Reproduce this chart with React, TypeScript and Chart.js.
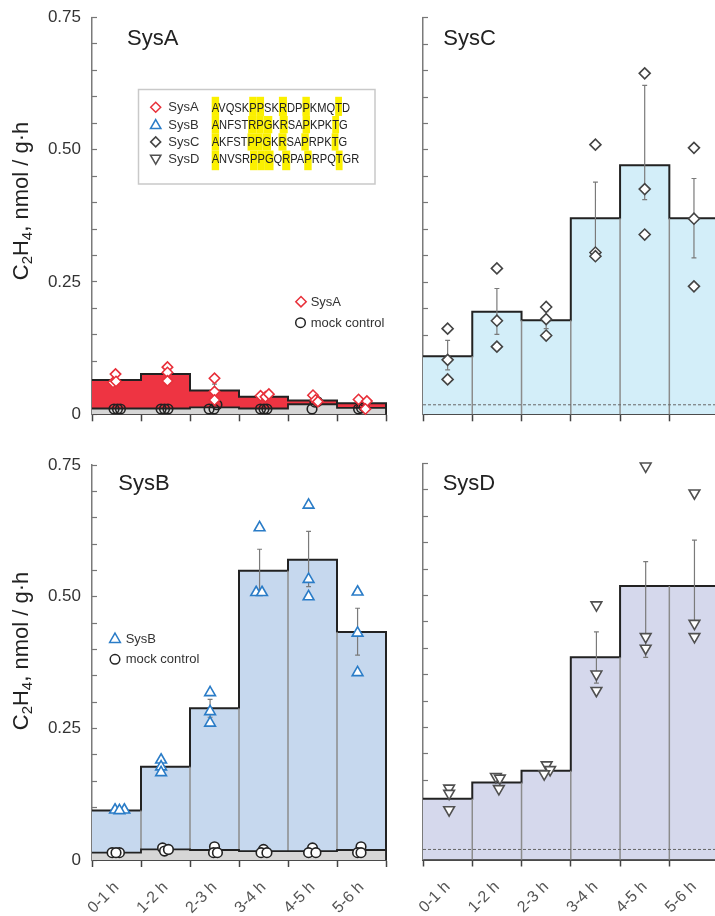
import React, { useEffect, useRef } from 'react';
import { Chart, registerables } from 'chart.js';
import { drawPoint } from 'chart.js/helpers';

Chart.register(...registerables);

// ---------------- data ----------------
const categories = ['0-1 h', '1-2 h', '2-3 h', '3-4 h', '4-5 h', '5-6 h'];
const xTickValues = [0, 0.5, 1, 1.5, 2, 2.5, 3, 3.5, 4, 4.5, 5, 5.5, 6];
const yLabelValues = [0, 0.25, 0.5, 0.75];
const yLabelTexts = ['0', '0.25', '0.50', '0.75'];
const yMin = 0;
const yMax = 0.75;
const yStep = 0.05;

// SysA
const sysAMean = [0.065, 0.076, 0.045, 0.033, 0.026, 0.021];
const sysAMock = [0.011, 0.011, 0.013, 0.011, 0.019, 0.012];
const sysAValues = [[0.076, 0.060, 0.062], [0.089, 0.079, 0.063], [0.068, 0.043, 0.027], [0.035, 0.033, 0.038], [0.036, 0.027, 0.024], [0.028, 0.025, 0.010]];
const sysAX = [[0.48, 0.43, 0.49], [1.54, 1.54, 1.54], [2.5, 2.5, 2.5], [3.44, 3.54, 3.61], [4.51, 4.56, 4.61], [5.44, 5.61, 5.58]];
const sysAErrUp = [0, 0, 0.012, 0, 0, 0];
const sysAErrDown = [0, 0, 0.012, 0, 0, 0];
const sysAErrX = [0.5, 1.5, 2.5, 3.5, 4.5, 5.5];
const sysAMockValues = [[0.010, 0.010, 0.010], [0.010, 0.010, 0.010], [0.010, 0.010, 0.018], [0.010, 0.010, 0.010], [0.010, 0.023, 0.024], [0.010, 0.012, 0.014]];
const sysAMockX = [[0.45, 0.52, 0.58], [1.41, 1.48, 1.55], [2.39, 2.49, 2.55], [3.44, 3.51, 3.57], [4.49, 4.55, 4.6], [5.44, 5.5, 5.55]];

// SysC
const sysCMean = [0.110, 0.194, 0.178, 0.371, 0.471, 0.371];
const sysCValues = [[0.162, 0.103, 0.066], [0.276, 0.177, 0.128], [0.203, 0.180, 0.149], [0.510, 0.306, 0.299], [0.645, 0.426, 0.340], [0.504, 0.370, 0.242]];
const sysCX = [[0.5, 0.5, 0.5], [1.5, 1.5, 1.5], [2.5, 2.5, 2.5], [3.5, 3.5, 3.5], [4.5, 4.5, 4.5], [5.5, 5.5, 5.5]];
const sysCErrUp = [0.030, 0.044, 0.016, 0.068, 0.151, 0.075];
const sysCErrDown = [0.026, 0.043, 0.016, 0.068, 0.065, 0.075];
const sysCErrX = [0.5, 1.5, 2.5, 3.5, 4.5, 5.5];
const sysCMockLevel = 0.018;

// SysB
const sysBMean = [0.094, 0.177, 0.288, 0.549, 0.570, 0.433];
const sysBMock = [0.014, 0.020, 0.019, 0.017, 0.017, 0.019];
const sysBValues = [[0.095, 0.095, 0.094], [0.190, 0.177, 0.166], [0.318, 0.282, 0.260], [0.631, 0.508, 0.508], [0.674, 0.533, 0.500], [0.509, 0.431, 0.356]];
const sysBX = [[0.47, 0.66, 0.56], [1.41, 1.41, 1.41], [2.41, 2.41, 2.41], [3.42, 3.35, 3.47], [4.42, 4.42, 4.42], [5.42, 5.42, 5.42]];
const sysBErrUp = [0, 0, 0.017, 0.041, 0.054, 0.045];
const sysBErrDown = [0, 0, 0.017, 0.041, 0.051, 0.044];
const sysBErrX = [0.5, 1.41, 2.41, 3.42, 4.42, 5.42];
const sysBMockValues = [[0.014, 0.014, 0.014], [0.023, 0.017, 0.020], [0.025, 0.014, 0.014], [0.020, 0.014, 0.014], [0.023, 0.014, 0.014], [0.025, 0.014, 0.014]];
const sysBMockX = [[0.41, 0.56, 0.49], [1.44, 1.48, 1.56], [2.5, 2.48, 2.56], [3.5, 3.45, 3.57], [4.5, 4.42, 4.57], [5.49, 5.42, 5.49]];

// SysD
const sysDMean = [0.115, 0.146, 0.168, 0.383, 0.518, 0.518];
const sysDValues = [[0.135, 0.125, 0.094], [0.157, 0.154, 0.134], [0.179, 0.170, 0.162], [0.482, 0.351, 0.320], [0.745, 0.422, 0.400], [0.694, 0.447, 0.422]];
const sysDX = [[0.53, 0.53, 0.53], [1.48, 1.56, 1.54], [2.51, 2.58, 2.46], [3.52, 3.52, 3.52], [4.52, 4.52, 4.52], [5.51, 5.51, 5.51]];
const sysDErrUp = [0, 0, 0, 0.048, 0.046, 0.087];
const sysDErrDown = [0, 0, 0, 0.049, 0.135, 0.070];
const sysDErrX = [0.5, 1.5, 2.5, 3.52, 4.52, 5.51];
const sysDMockLevel = 0.019;

// alignment legend
const seqNames = ['SysA', 'SysB', 'SysC', 'SysD'];
const sequences = ['AVQSKPPSKRDPPKMQTD', 'ANFSTRPGKRSAPKPKTG', 'AKFSTPPGKRSAPRPKTG', 'ANVSRPPGQRPAPRPQTGR'];
const highlightCols = [[0, 5, 6, 9, 12, 16], [0, 5, 6, 7, 9, 12, 16], [0, 5, 6, 7, 9, 12, 16], [0, 5, 6, 7, 9, 12, 16]];

// ---------------- styles ----------------
const FONT = '"Liberation Sans", Arial, Helvetica, sans-serif';
const RED_FILL = '#ee3442';
const RED_PT = '#e8303a';
const GRAY_FILL = '#d6d6d6';
const C_FILL = '#d3eef9';
const B_FILL = '#c6d8ee';
const D_FILL = '#d5d8ec';
const B_PT = '#2a7cc7';
const C_PT = '#444444';
const D_PT = '#505050';

Chart.defaults.font.family = FONT;

type Pt = { x: number; y: number | null };

const stepPoints = (vals: number[]): Pt[] => [
  ...vals.map((v, i) => ({ x: i, y: v })),
  { x: vals.length, y: vals[vals.length - 1] },
  { x: vals.length, y: 0 },
];

const boundaryPoints = (vals: number[]): Pt[] => {
  const pts: Pt[] = [];
  for (let i = 1; i < vals.length; i++) {
    pts.push({ x: i, y: 0 }, { x: i, y: Math.min(vals[i - 1], vals[i]) }, { x: i, y: null });
  }
  return pts;
};

const scatterPoints = (ys: number[][], xs: number[][]): Pt[] =>
  ys.flatMap((row, i) => row.map((y, j) => ({ x: xs[i][j], y })));

const errorPoints = (means: number[], up: number[], down: number[], xs: number[]): Pt[] => {
  const cap = 0.05;
  const pts: Pt[] = [];
  means.forEach((m, i) => {
    if (!up[i] && !down[i]) return;
    const x = xs[i];
    const hi = m + up[i];
    const lo = m - down[i];
    pts.push(
      { x, y: hi }, { x, y: lo }, { x, y: null },
      { x: x - cap, y: hi }, { x: x + cap, y: hi }, { x, y: null },
      { x: x - cap, y: lo }, { x: x + cap, y: lo }, { x, y: null },
    );
  });
  return pts;
};

const flatLine = (level: number): Pt[] => [{ x: 0, y: level }, { x: categories.length, y: level }];

const lineDs = (data: Pt[], opts: any) => ({
  type: 'line',
  data,
  pointRadius: 0,
  fill: false,
  clip: 12,
  ...opts,
});

const pointDs = (data: Pt[], style: string, radius: number, border: string, bg: string, order: number, rotation = 0) => ({
  type: 'line',
  data,
  showLine: false,
  pointStyle: style,
  pointRadius: radius,
  pointRotation: rotation,
  pointBorderColor: border,
  pointBackgroundColor: bg,
  pointBorderWidth: 1.6,
  clip: 12,
  order,
});

// ---------------- annotation helpers ----------------
function marker(ctx: CanvasRenderingContext2D, style: string, x: number, y: number, r: number, stroke: string, fill: string, rot = 0) {
  ctx.save();
  ctx.strokeStyle = stroke;
  ctx.fillStyle = fill;
  ctx.lineWidth = 1.5;
  drawPoint(ctx, { pointStyle: style as any, radius: r, rotation: rot, borderWidth: 1.5 } as any, x, y);
  ctx.restore();
}

function drawTitle(ctx: CanvasRenderingContext2D, text: string, x: number, y: number) {
  ctx.save();
  ctx.font = `22px ${FONT}`;
  ctx.fillStyle = '#222';
  ctx.textAlign = 'left';
  ctx.textBaseline = 'alphabetic';
  ctx.fillText(text, x, y);
  ctx.restore();
}

function drawYTitle(ctx: CanvasRenderingContext2D, cx: number, cy: number) {
  const parts = [
    { t: 'C', sub: false },
    { t: '2', sub: true },
    { t: 'H', sub: false },
    { t: '4', sub: true },
    { t: ', nmol / g\u00b7h', sub: false },
  ];
  const big = `22px ${FONT}`;
  const small = `15px ${FONT}`;
  ctx.save();
  let total = 0;
  const widths = parts.map((p) => {
    ctx.font = p.sub ? small : big;
    const w = ctx.measureText(p.t).width;
    total += w;
    return w;
  });
  ctx.translate(cx, cy);
  ctx.rotate(-Math.PI / 2);
  ctx.fillStyle = '#222';
  ctx.textAlign = 'left';
  ctx.textBaseline = 'alphabetic';
  let x = -total / 2;
  const base = 5;
  parts.forEach((p, i) => {
    ctx.font = p.sub ? small : big;
    ctx.fillText(p.t, x, p.sub ? base + 4 : base);
    x += widths[i];
  });
  ctx.restore();
}

type LegendItem = { style: string; rot?: number; stroke: string; fill: string; label: string; x: number; y: number; r: number };

function drawLegend(ctx: CanvasRenderingContext2D, items: LegendItem[], textX: number) {
  items.forEach((it) => {
    marker(ctx, it.style, it.x, it.y, it.r, it.stroke, it.fill, it.rot || 0);
    ctx.save();
    ctx.font = `13px ${FONT}`;
    ctx.fillStyle = '#333';
    ctx.textAlign = 'left';
    ctx.textBaseline = 'middle';
    ctx.fillText(it.label, textX, it.y + 0.5);
    ctx.restore();
  });
}

function drawSeqBox(ctx: CanvasRenderingContext2D) {
  ctx.save();
  ctx.fillStyle = '#ffffff';
  ctx.fillRect(138.5, 89.5, 236.5, 94.5);
  ctx.strokeStyle = '#c9c9c9';
  ctx.lineWidth = 1.5;
  ctx.strokeRect(138.5, 89.5, 236.5, 94.5);
  ctx.restore();

  const rowY = (r: number) => 107.3 + r * 17.3;
  const styles: { style: string; rot: number; stroke: string }[] = [
    { style: 'rectRot', rot: 0, stroke: RED_PT },
    { style: 'triangle', rot: 0, stroke: B_PT },
    { style: 'rectRot', rot: 0, stroke: C_PT },
    { style: 'triangle', rot: 180, stroke: D_PT },
  ];
  seqNames.forEach((n, r) => {
    const s = styles[r];
    const y = rowY(r);
    marker(ctx, s.style, 155.7, s.style === 'triangle' ? y + (s.rot ? -1 : 1) : y, s.style === 'triangle' ? 6 : 5, s.stroke, '#fff', s.rot);
    ctx.save();
    ctx.font = `13px ${FONT}`;
    ctx.fillStyle = '#333';
    ctx.textAlign = 'left';
    ctx.textBaseline = 'middle';
    ctx.fillText(n, 168.3, y + 0.5);
    ctx.restore();
  });

  ctx.save();
  ctx.font = `13.5px ${FONT}`;
  const sx = 138.3 / ctx.measureText(sequences[0]).width;
  const x0 = 211.7;
  ctx.fillStyle = '#fbf000';
  sequences.forEach((seq, r) => {
    const y = rowY(r);
    highlightCols[r].forEach((c) => {
      const a = x0 + sx * ctx.measureText(seq.slice(0, c)).width;
      const b = x0 + sx * ctx.measureText(seq.slice(0, c + 1)).width;
      const top = r === 0 ? y - 10.5 : y - 8.65;
      const bot = r === sequences.length - 1 ? y + 11 : y + 8.66;
      ctx.fillRect(a, top, b - a, bot - top);
    });
  });
  ctx.fillStyle = '#222';
  ctx.textAlign = 'left';
  ctx.textBaseline = 'middle';
  sequences.forEach((seq, r) => {
    ctx.save();
    ctx.translate(x0, rowY(r) + 0.5);
    ctx.scale(sx, 1);
    ctx.fillText(seq, 0, 0);
    ctx.restore();
  });
  ctx.restore();
}

// ---------------- panels ----------------
type PanelSpec = {
  left: number;
  top: number;
  w: number;
  h: number;
  padding: { top: number; right: number; left: number; bottom: number };
  yWidth: number;
  xHeight: number;
  showX: boolean;
  showY: boolean;
  datasets: any[];
  annotate: (ctx: CanvasRenderingContext2D) => void;
};

const boundaryStyle = { borderColor: '#8c8c8c', borderWidth: 1.5, order: 9 };
const errStyle = { borderColor: '#7a7a7a', borderWidth: 1.2, order: 6 };
const stepStyle = (fillColor: string, order: number) => ({
  stepped: true,
  fill: 'origin',
  backgroundColor: fillColor,
  borderColor: '#222',
  borderWidth: 2,
  order,
});

const panels: PanelSpec[] = [
  {
    left: 0, top: 0, w: 400, h: 445,
    padding: { top: 17.3, right: 14, left: 0, bottom: 0 },
    yWidth: 92, xHeight: 30.7, showX: false, showY: true,
    datasets: [
      lineDs(stepPoints(sysAMean), stepStyle(RED_FILL, 10)),
      lineDs(stepPoints(sysAMock), { ...stepStyle(GRAY_FILL, 8), borderWidth: 1.8 }),
      lineDs(errorPoints(sysAMean, sysAErrUp, sysAErrDown, sysAErrX), errStyle),
      pointDs(scatterPoints(sysAMockValues, sysAMockX), 'circle', 4.8, '#222', 'rgba(0,0,0,0)', 3),
      pointDs(scatterPoints(sysAValues, sysAX), 'rectRot', 5.2, RED_PT, '#ffffff', 1),
    ],
    annotate: (ctx) => {
      drawTitle(ctx, 'SysA', 127, 45);
      drawYTitle(ctx, 23, 201);
      drawSeqBox(ctx);
      drawLegend(ctx, [
        { style: 'rectRot', stroke: RED_PT, fill: '#fff', label: 'SysA', x: 301, y: 301.7, r: 5.2 },
        { style: 'circle', stroke: '#222', fill: 'rgba(0,0,0,0)', label: 'mock control', x: 300.5, y: 322.7, r: 4.8 },
      ], 310.7);
    },
  },
  {
    left: 400, top: 0, w: 340, h: 445,
    padding: { top: 17.8, right: 21.4, left: 0, bottom: 0 },
    yWidth: 23, xHeight: 30.7, showX: false, showY: false,
    datasets: [
      lineDs(stepPoints(sysCMean), stepStyle(C_FILL, 10)),
      lineDs(boundaryPoints(sysCMean), boundaryStyle),
      lineDs(flatLine(sysCMockLevel), { borderColor: '#666', borderWidth: 1, borderDash: [3, 2], order: 7 }),
      lineDs(errorPoints(sysCMean, sysCErrUp, sysCErrDown, sysCErrX), errStyle),
      pointDs(scatterPoints(sysCValues, sysCX), 'rectRot', 5.5, C_PT, '#ffffff', 1),
    ],
    annotate: (ctx) => {
      drawTitle(ctx, 'SysC', 43.3, 45);
    },
  },
  {
    left: 0, top: 445, w: 400, h: 471,
    padding: { top: 20, right: 14, left: 0, bottom: 0 },
    yWidth: 92, xHeight: 56, showX: true, showY: true,
    datasets: [
      lineDs(stepPoints(sysBMean), stepStyle(B_FILL, 10)),
      lineDs(boundaryPoints(sysBMean), boundaryStyle),
      lineDs(stepPoints(sysBMock), { ...stepStyle(GRAY_FILL, 8), borderWidth: 1.8 }),
      lineDs(errorPoints(sysBMean, sysBErrUp, sysBErrDown, sysBErrX), errStyle),
      pointDs(scatterPoints(sysBMockValues, sysBMockX), 'circle', 4.8, '#222', '#ffffff', 3),
      pointDs(scatterPoints(sysBValues, sysBX), 'triangle', 6.2, B_PT, '#ffffff', 1),
    ],
    annotate: (ctx) => {
      drawTitle(ctx, 'SysB', 118.3, 45);
      drawYTitle(ctx, 23, 206);
      drawLegend(ctx, [
        { style: 'triangle', stroke: B_PT, fill: '#fff', label: 'SysB', x: 115, y: 194.3, r: 6.2 },
        { style: 'circle', stroke: '#222', fill: '#fff', label: 'mock control', x: 115, y: 214.3, r: 4.8 },
      ], 125.7);
    },
  },
  {
    left: 400, top: 445, w: 340, h: 471,
    padding: { top: 18.5, right: 21.4, left: 0, bottom: 0 },
    yWidth: 23, xHeight: 56.5, showX: true, showY: false,
    datasets: [
      lineDs(stepPoints(sysDMean), stepStyle(D_FILL, 10)),
      lineDs(boundaryPoints(sysDMean), boundaryStyle),
      lineDs(flatLine(sysDMockLevel), { borderColor: '#666', borderWidth: 1, borderDash: [3, 2], order: 7 }),
      lineDs(errorPoints(sysDMean, sysDErrUp, sysDErrDown, sysDErrX), errStyle),
      pointDs(scatterPoints(sysDValues, sysDX), 'triangle', 6.2, D_PT, '#ffffff', 1, 180),
    ],
    annotate: (ctx) => {
      drawTitle(ctx, 'SysD', 42.7, 45);
    },
  },
];

function buildConfig(p: PanelSpec): any {
  return {
    type: 'line',
    data: { datasets: p.datasets },
    options: {
      animation: false,
      responsive: false,
      events: [],
      layout: { padding: p.padding, autoPadding: false },
      plugins: { legend: { display: false }, tooltip: { enabled: false }, title: { display: false } },
      scales: {
        x: {
          type: 'linear',
          min: 0,
          max: categories.length,
          afterBuildTicks: (s: any) => {
            s.ticks = xTickValues.map((v) => ({ value: v }));
          },
          afterFit: (s: any) => {
            s.height = p.xHeight;
            s.paddingLeft = 0;
            s.paddingRight = 0;
          },
          grid: {
            drawOnChartArea: false,
            drawTicks: true,
            tickLength: 7,
            tickWidth: 1.5,
            tickColor: (c: any) => (c.tick && Number.isInteger(c.tick.value) ? '#444' : 'rgba(0,0,0,0)'),
          },
          border: { color: '#4a4a4a', width: 2 },
          ticks: {
            autoSkip: false,
            minRotation: 45,
            maxRotation: 45,
            padding: 11,
            color: '#555',
            font: { size: 16, family: FONT },
            callback: (v: number) => (p.showX && !Number.isInteger(v) ? categories[Math.floor(v)] : ''),
          },
        },
        y: {
          type: 'linear',
          min: yMin,
          max: yMax,
          afterFit: (s: any) => {
            s.width = p.yWidth;
            s.paddingTop = 0;
            s.paddingBottom = 0;
          },
          grid: {
            drawOnChartArea: false,
            drawTicks: true,
            tickLength: -5,
            tickWidth: 1.2,
            tickColor: '#777',
          },
          border: { color: '#7a7a7a', width: 1.5 },
          ticks: {
            stepSize: yStep,
            autoSkip: false,
            padding: 16,
            color: '#333',
            font: { size: 17, family: FONT },
            callback: (v: number) => {
              if (!p.showY) return '';
              const idx = yLabelValues.findIndex((lv) => Math.abs(lv - v) < 1e-6);
              return idx >= 0 ? yLabelTexts[idx] : '';
            },
          },
        },
      },
    },
    plugins: [
      {
        id: 'panelAnnotations',
        afterDraw: (chart: any) => {
          p.annotate(chart.ctx);
        },
      },
    ],
  };
}

export default function App() {
  const refs = useRef<(HTMLCanvasElement | null)[]>([]);
  useEffect(() => {
    const charts = panels.map((p, i) => new Chart(refs.current[i] as HTMLCanvasElement, buildConfig(p)));
    return () => charts.forEach((c) => c.destroy());
  }, []);
  return (
    <div style={{ position: 'absolute', left: 0, top: 0, width: 715, height: 916, overflow: 'hidden', background: '#ffffff' }}>
      {panels.map((p, i) => (
        <canvas
          key={i}
          ref={(el) => {
            refs.current[i] = el;
          }}
          width={p.w}
          height={p.h}
          style={{ position: 'absolute', left: p.left, top: p.top, width: p.w, height: p.h }}
        />
      ))}
    </div>
  );
}
